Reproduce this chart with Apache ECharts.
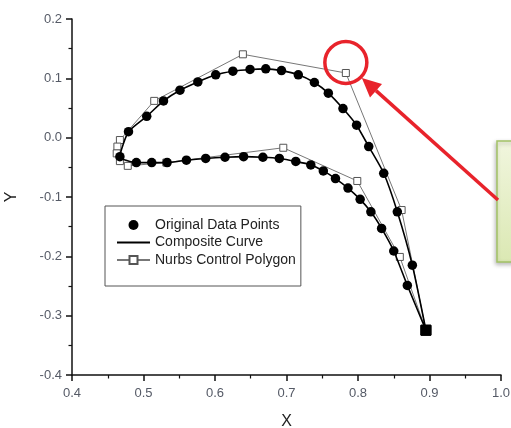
<!DOCTYPE html>
<html><head><meta charset="utf-8">
<script src="https://cdn.jsdelivr.net/npm/echarts@6/dist/echarts.min.js"></script>
<style>html,body{margin:0;padding:0;background:#fff}#c{width:511px;height:428px}</style>
</head><body><div id="c"></div>
<script>
// Upper (outer) surface: leading edge -> trailing edge
const upperX = [0.467,0.479,0.5045,0.528,0.551,0.576,0.601,0.625,0.649,0.671,0.693,0.7165,0.739,0.7585,0.779,0.798,0.815,0.836,0.855,0.876,0.895];
const upperY = [-0.032,0.010,0.036,0.062,0.080,0.094,0.106,0.112,0.115,0.116,0.113,0.106,0.093,0.075,0.049,0.021,-0.015,-0.060,-0.125,-0.215,-0.3245];
// Lower (inner) surface: leading edge -> trailing edge (ends at shared trailing point)
const lowerX = [0.490,0.5115,0.533,0.560,0.587,0.614,0.640,0.667,0.690,0.713,0.734,0.7515,0.7685,0.786,0.803,0.818,0.833,0.850,0.869];
const lowerY = [-0.042,-0.042,-0.042,-0.038,-0.035,-0.033,-0.032,-0.033,-0.035,-0.040,-0.046,-0.056,-0.069,-0.085,-0.104,-0.125,-0.153,-0.191,-0.249];
// NURBS control polygon
const ctrlX = [0.895,0.861,0.783,0.639,0.515,0.467,0.4635,0.4625,0.467,0.478,0.532,0.6955,0.799,0.8585,0.895];
const ctrlY = [-0.3245,-0.122,0.109,0.1405,0.062,-0.004,-0.015,-0.0265,-0.0395,-0.0475,-0.042,-0.017,-0.073,-0.201,-0.3245];
const highlightIndex = 2; // circled control point
const seriesNames = ['Original Data Points','Composite Curve','Nurbs Control Polygon'];
const xTicks = {min:0.4, max:1.0, step:0.1};
const yTicks = {min:-0.4, max:0.2, step:0.1};

const zip = (xs, ys) => xs.map((x, i) => [x, ys[i]]);
const upper = zip(upperX, upperY);
const lower = zip(lowerX, lowerY);
const trailing = upper[upper.length - 1];
const dots = upper.concat(lower);
const curve = upper.slice().reverse().concat(lower, [trailing]);
const ctrl = zip(ctrlX, ctrlY).map((p, i, a) => (i === 0 || i === a.length - 1)
  ? {value: p, symbol: 'rect', symbolSize: 10, itemStyle: {color: '#000', borderColor: '#000'}}
  : p);

const FONT = '"Liberation Sans", Arial, sans-serif';
const chart = echarts.init(document.getElementById('c'), null, {renderer: 'canvas'});
const axisCommon = {
  type: 'value', splitLine: {show: false},
  axisLine: {onZero: false, lineStyle: {color: '#111', width: 1.5}},
  axisTick: {inside: false, length: 6, lineStyle: {color: '#111', width: 1.5}},
  minorTick: {show: true, splitNumber: 2, length: 3.5, lineStyle: {color: '#111', width: 1.2}},
  axisLabel: {color: '#555a66', fontSize: 13, fontFamily: FONT, formatter: v => v.toFixed(1)},
  nameLocation: 'middle',
  nameTextStyle: {color: '#222', fontSize: 16, fontFamily: FONT}
};
chart.setOption({
  animation: false,
  backgroundColor: '#fff',
  grid: {left: 72, right: 10, top: 19, bottom: 53, containLabel: false, outerBoundsMode: 'none'},
  xAxis: Object.assign({}, axisCommon, {min: xTicks.min, max: xTicks.max, interval: xTicks.step, name: 'X', nameGap: 39,
    axisLabel: Object.assign({}, axisCommon.axisLabel, {margin: 12})}),
  yAxis: Object.assign({}, axisCommon, {min: yTicks.min, max: yTicks.max, interval: yTicks.step, name: 'Y', nameGap: 52, nameRotate: 90,
    axisLabel: Object.assign({}, axisCommon.axisLabel, {margin: 10})}),
  legend: {
    data: [
      {name: seriesNames[0]},
      {name: seriesNames[1], itemStyle: {opacity: 0}},
      {name: seriesNames[2]}
    ],
    orient: 'vertical', left: 105, top: 206,
    padding: [12, 5, 19, 11], itemGap: 3.5, itemWidth: 33, itemHeight: 10,
    borderColor: '#555', borderWidth: 1, backgroundColor: '#fff',
    textStyle: {color: '#222', fontSize: 14, fontFamily: FONT},
    selectedMode: false
  },
  series: [
    {name: seriesNames[2], type: 'line', data: ctrl, z: 2, symbol: 'rect', symbolSize: 7,
      lineStyle: {color: '#777', width: 1}, itemStyle: {color: '#fff', borderColor: '#555', borderWidth: 1}},
    {name: seriesNames[1], type: 'line', data: curve, z: 3, symbol: 'none', smooth: 0.2,
      lineStyle: {color: '#000', width: 1.6}, itemStyle: {color: '#000'}},
    {name: seriesNames[0], type: 'scatter', data: dots, z: 4, symbol: 'circle', symbolSize: 9.5,
      itemStyle: {color: '#000', opacity: 1}}
  ]
});

const hp = chart.convertToPixel({seriesIndex: 0}, [ctrlX[highlightIndex], ctrlY[highlightIndex]]);
const tip = [hp[0] + 16, hp[1] + 5];
const start = [498, 200];
const dx = start[0] - tip[0], dy = start[1] - tip[1], L = Math.hypot(dx, dy);
const ux = dx / L, uy = dy / L, hl = 19, hw = 9;
const base = [tip[0] + ux * hl, tip[1] + uy * hl];
const red = '#e8232b';
chart.setOption({
  graphic: [
    {type: 'rect', shape: {x: 497, y: 141, width: 40, height: 121}, z: 10,
      style: {fill: new echarts.graphic.LinearGradient(0, 0, 0, 1, [{offset: 0, color: '#f1f6de'}, {offset: 1, color: '#dbe8b3'}]),
        stroke: '#a3c266', lineWidth: 1.5, shadowBlur: 4, shadowOffsetX: -1, shadowOffsetY: 2, shadowColor: 'rgba(0,0,0,0.25)'}},
    {type: 'circle', shape: {cx: hp[0], cy: hp[1] - 10.5, r: 21}, z: 11,
      style: {fill: 'none', stroke: red, lineWidth: 3.5}},
    {type: 'line', shape: {x1: start[0], y1: start[1], x2: base[0], y2: base[1]}, z: 11,
      style: {stroke: red, lineWidth: 3.5}},
    {type: 'polygon', shape: {points: [tip, [base[0] - uy * hw, base[1] + ux * hw], [base[0] + uy * hw, base[1] - ux * hw]]}, z: 11,
      style: {fill: red}}
  ]
});
</script></body></html>
